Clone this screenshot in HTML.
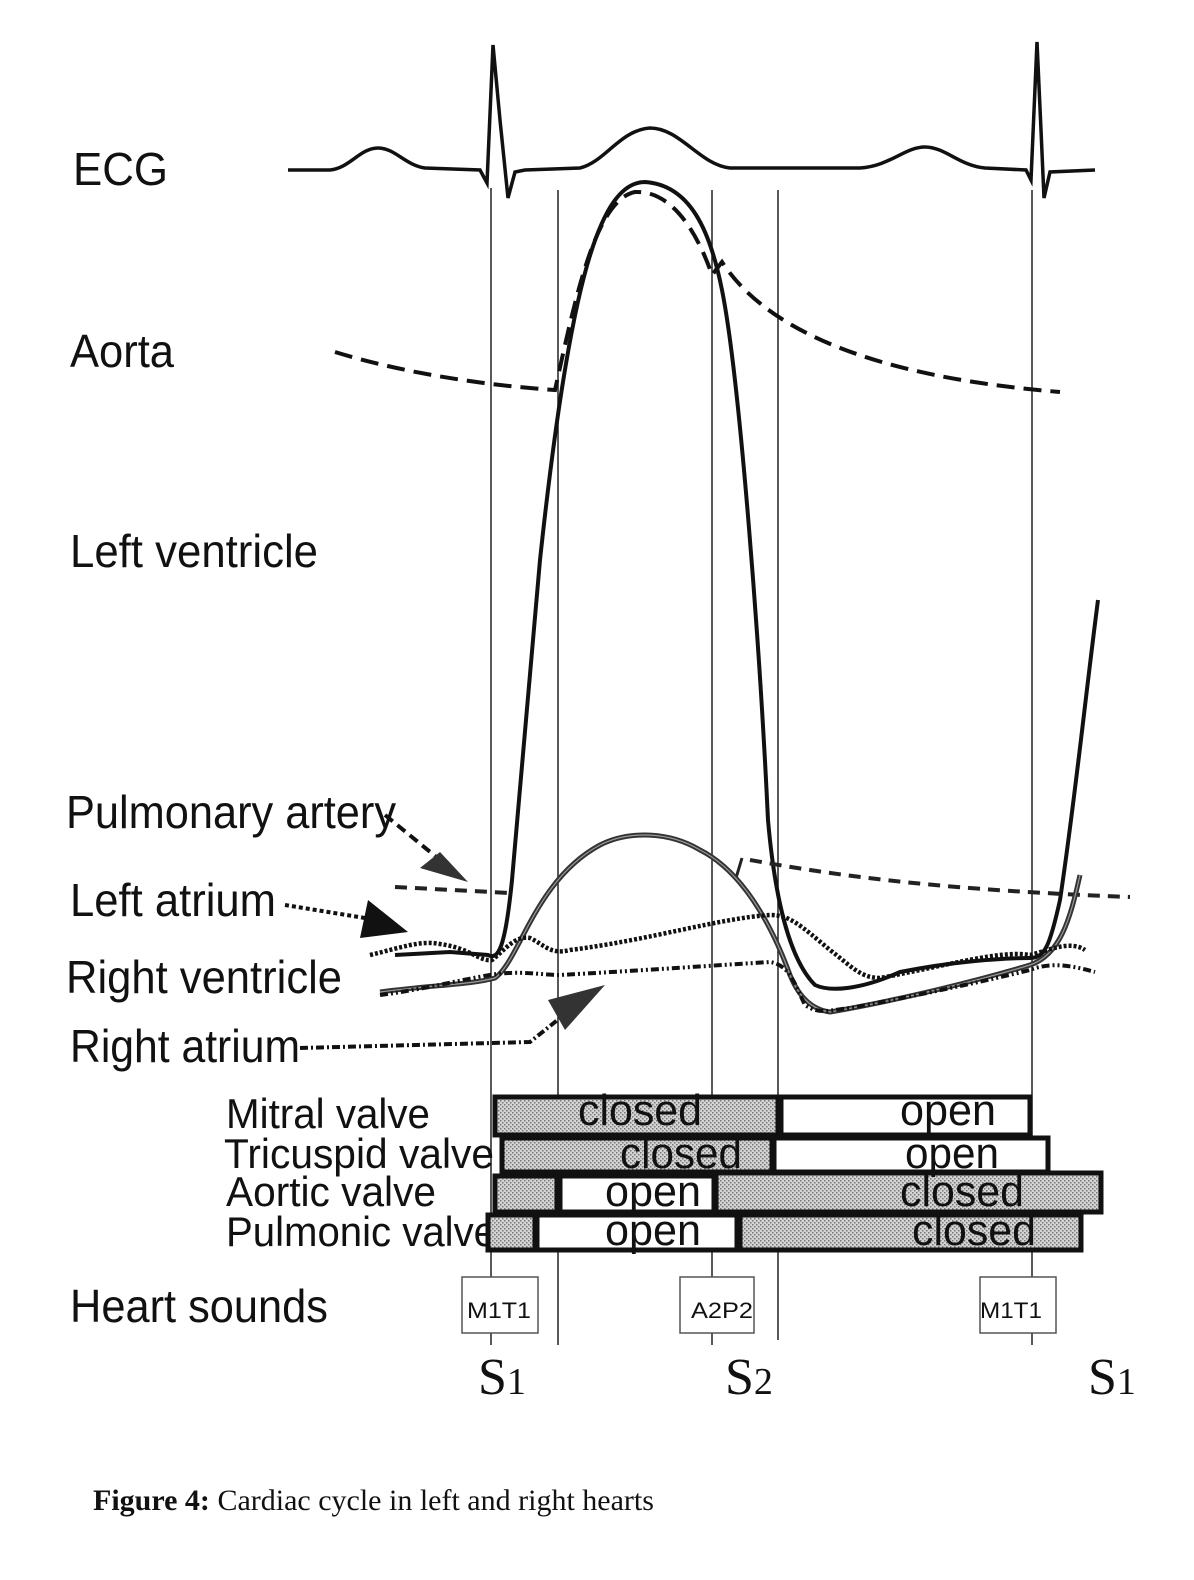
<!DOCTYPE html>
<html><head><meta charset="utf-8"><style>
html,body{margin:0;padding:0;background:#fff;overflow:hidden;width:1194px;height:1580px;}
svg{display:block;}
.lbl{font-family:"Liberation Sans",sans-serif;font-size:46px;fill:#111;}
.vt{font-family:"Liberation Sans",sans-serif;font-size:42px;fill:#111;}
.bt{font-family:"Liberation Sans",sans-serif;font-size:44px;fill:#111;}
.hs{font-family:"Liberation Sans",sans-serif;font-size:22px;fill:#111;}
.s{font-family:"Liberation Serif",serif;font-size:52px;fill:#111;}
</style></head><body>
<svg width="1194" height="1580" viewBox="0 0 1194 1580" xmlns="http://www.w3.org/2000/svg">
<defs>
<pattern id="dots" width="4" height="4" patternUnits="userSpaceOnUse">
<rect width="4" height="4" fill="#d4d4d4"/><rect width="1.5" height="1.5" fill="#777"/><rect x="2" y="2" width="1.5" height="1.5" fill="#777"/>
</pattern>
</defs>
<g stroke="#222" stroke-width="1.5">
<line x1="491" y1="188" x2="491" y2="1345"/>
<line x1="558" y1="190" x2="558" y2="1345"/>
<line x1="712" y1="190" x2="712" y2="1345"/>
<line x1="778" y1="190" x2="778" y2="1340"/>
<line x1="1032" y1="190" x2="1032" y2="1345"/>
</g>
<path d="M288 170 L330 170 C350 168 360 148 378 148 C395 148 405 165 425 168 L480 170 L487 183 L493 45 L500 120 L508 198 L515 172 L525 170 L580 168 C605 162 620 130 650 128 C680 128 700 165 730 168 L860 168 C890 166 905 147 925 147 C945 147 960 166 985 168 L1026 170 L1031 180 L1037 42 L1041 130 L1044 198 L1050 172 L1095 170" fill="none" stroke="#111" stroke-width="3.5"/>
<path d="M335 352 C400 372 480 385 555 390 C575 300 595 200 635 192 C675 190 700 240 712 275 L722 262 C760 320 850 375 1060 392" fill="none" stroke="#111" stroke-width="4" stroke-dasharray="18,9"/>
<path d="M395 955 L450 952 L488 955 C498 960 505 950 512 880 L540 560 C570 280 600 182 645 182 C690 185 710 230 722 290 C740 380 760 650 768 820 C775 900 790 960 815 985 C830 992 860 990 900 972 C950 962 1000 958 1030 958 C1045 958 1050 945 1060 900 C1075 800 1085 700 1098 600" fill="none" stroke="#111" stroke-width="4"/>
<path d="M395 887 L510 893 M750 860 C850 878 950 890 1130 897" fill="none" stroke="#222" stroke-width="4" stroke-dasharray="12,8"/>
<path d="M736 878 L742 858" stroke="#222" stroke-width="3"/>
<path d="M380 992 C430 985 470 985 495 978 C520 960 535 880 600 845 C630 830 670 832 700 850 C740 870 770 920 790 975 C800 1000 815 1010 830 1012 C900 1000 980 980 1030 965 C1060 955 1070 920 1080 875" fill="none" stroke="#333" stroke-width="5"/>
<path d="M380 992 C430 985 470 985 495 978 C520 960 535 880 600 845 C630 830 670 832 700 850 C740 870 770 920 790 975 C800 1000 815 1010 830 1012 C900 1000 980 980 1030 965 C1060 955 1070 920 1080 875" fill="none" stroke="#999" stroke-width="1.2"/>
<path d="M370 955 C400 948 420 940 440 944 C470 948 480 962 492 960 C505 950 515 935 530 938 C545 945 550 955 570 950 C650 940 720 918 770 915 C790 915 800 925 830 950 C850 965 860 978 880 978 C950 965 1000 950 1030 955 C1050 950 1070 940 1085 950" fill="none" stroke="#111" stroke-width="4.5" stroke-dasharray="3,2"/>
<path d="M380 995 C420 990 460 980 490 975 C520 970 540 975 560 975 C650 970 720 965 770 962 C790 965 795 985 805 1005 C820 1015 830 1010 850 1008 C920 995 990 980 1030 970 C1050 962 1070 965 1095 972" fill="none" stroke="#111" stroke-width="4" stroke-dasharray="8,3,2,3,2,3"/>
<path d="M385 815 L440 860" stroke="#111" stroke-width="4" stroke-dasharray="10,6" fill="none"/>
<path d="M468 882 L420 868 L440 852 Z" fill="#333"/>
<path d="M285 905 L365 918" stroke="#111" stroke-width="4" stroke-dasharray="4,3" fill="none"/>
<path d="M408 932 L360 938 L368 900 Z" fill="#111"/>
<path d="M300 1048 L530 1042 L570 1010" stroke="#111" stroke-width="4" stroke-dasharray="8,3,2,3" fill="none"/>
<path d="M605 985 L548 1000 L565 1030 Z" fill="#333"/>
<text class="lbl" x="73" y="185" textLength="95" lengthAdjust="spacingAndGlyphs">ECG</text>
<text class="lbl" x="70" y="367" textLength="104" lengthAdjust="spacingAndGlyphs">Aorta</text>
<text class="lbl" x="70" y="567" textLength="248" lengthAdjust="spacingAndGlyphs">Left ventricle</text>
<text class="lbl" x="66" y="828" textLength="330" lengthAdjust="spacingAndGlyphs">Pulmonary artery</text>
<text class="lbl" x="70" y="916" textLength="206" lengthAdjust="spacingAndGlyphs">Left atrium</text>
<text class="lbl" x="66" y="993" textLength="276" lengthAdjust="spacingAndGlyphs">Right ventricle</text>
<text class="lbl" x="70" y="1062" textLength="230" lengthAdjust="spacingAndGlyphs">Right atrium</text>
<text class="lbl" x="70" y="1322" textLength="258" lengthAdjust="spacingAndGlyphs">Heart sounds</text>
<text class="vt" x="226" y="1128" textLength="204" lengthAdjust="spacingAndGlyphs">Mitral valve</text>
<text class="vt" x="224" y="1168" textLength="270" lengthAdjust="spacingAndGlyphs">Tricuspid valve</text>
<text class="vt" x="226" y="1206" textLength="210" lengthAdjust="spacingAndGlyphs">Aortic valve</text>
<text class="vt" x="226" y="1246" textLength="270" lengthAdjust="spacingAndGlyphs">Pulmonic valve</text>
<g stroke="#111" stroke-width="5">
<rect x="495" y="1097" width="283" height="38" fill="url(#dots)"/>
<rect x="781" y="1097" width="249" height="38" fill="#fff"/>
<rect x="502" y="1138" width="270" height="34" fill="url(#dots)"/>
<rect x="774" y="1138" width="274" height="34" fill="#fff"/>
<rect x="495" y="1176" width="62" height="36" fill="url(#dots)"/>
<rect x="560" y="1176" width="154" height="36" fill="#fff"/>
<rect x="716" y="1173" width="385" height="39" fill="url(#dots)"/>
<rect x="488" y="1215" width="47" height="35" fill="url(#dots)"/>
<rect x="537" y="1215" width="200" height="35" fill="#fff"/>
<rect x="740" y="1215" width="341" height="35" fill="url(#dots)"/>
</g>
<text class="bt" x="578" y="1125" textLength="124" lengthAdjust="spacingAndGlyphs">closed</text>
<text class="bt" x="900" y="1125" textLength="96" lengthAdjust="spacingAndGlyphs">open</text>
<text class="bt" x="620" y="1168" textLength="122" lengthAdjust="spacingAndGlyphs">closed</text>
<text class="bt" x="905" y="1168" textLength="94" lengthAdjust="spacingAndGlyphs">open</text>
<text class="bt" x="605" y="1206" textLength="96" lengthAdjust="spacingAndGlyphs">open</text>
<text class="bt" x="900" y="1206" textLength="124" lengthAdjust="spacingAndGlyphs">closed</text>
<text class="bt" x="605" y="1245" textLength="96" lengthAdjust="spacingAndGlyphs">open</text>
<text class="bt" x="912" y="1245" textLength="124" lengthAdjust="spacingAndGlyphs">closed</text>
<g fill="#fff" stroke="#555" stroke-width="1.5">
<rect x="462" y="1277" width="76" height="56"/>
<rect x="680" y="1277" width="74" height="56"/>
<rect x="980" y="1277" width="76" height="56"/>
</g>
<text class="hs" x="467" y="1318" textLength="64" lengthAdjust="spacingAndGlyphs">M1T1</text>
<text class="hs" x="691" y="1318" textLength="62" lengthAdjust="spacingAndGlyphs">A2P2</text>
<text class="hs" x="980" y="1318" textLength="62" lengthAdjust="spacingAndGlyphs">M1T1</text>
<text class="s" x="478" y="1394">S<tspan font-size="38">1</tspan></text>
<text class="s" x="725" y="1394">S<tspan font-size="38">2</tspan></text>
<text class="s" x="1088" y="1394">S<tspan font-size="38">1</tspan></text>
<text x="93" y="1510" font-family="Liberation Serif,serif" font-size="30" fill="#111"><tspan font-weight="bold">Figure 4:</tspan>  Cardiac cycle in left and right hearts</text>
</svg>
</body></html>
